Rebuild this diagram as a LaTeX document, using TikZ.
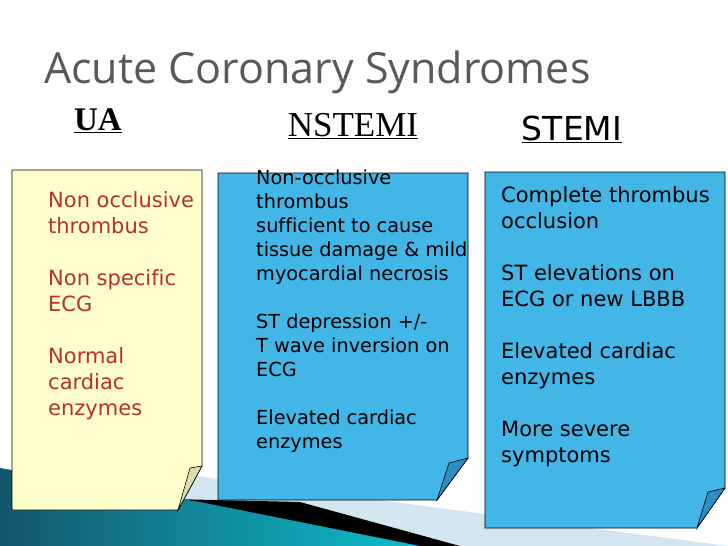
\documentclass[tikz,border=0pt]{standalone}
\usepackage{fontspec}
\setmainfont{Liberation Serif}
\newfontfamily\bodyfont[Ligatures=NoCommon]{DejaVu Sans}
\newfontfamily\titlefont{Open Sans}
\usetikzlibrary{positioning}
\definecolor{paleyellow}{HTML}{FFFFCC}
\definecolor{notecyan}{HTML}{42B6E6}
\definecolor{foldcyan}{HTML}{2E8FBC}
\definecolor{foldyellow}{HTML}{DCDCB0}
\definecolor{uared}{HTML}{B5312B}
\definecolor{titlegray}{HTML}{595959}
\definecolor{teal}{HTML}{1C7C98}
\definecolor{paleblue}{HTML}{D3E6EF}
\tikzset{
  note/.style={draw=black, line width=0.8pt},
  fold/.style={draw=black, line width=0.6pt},
  body/.style={anchor=north west, align=left, inner sep=0pt,
    font=\bodyfont\fontsize{21}{26}\selectfont},
  head/.style={anchor=base, inner sep=0pt}
}
\begin{document}
\begin{tikzpicture}[x=1pt, y=-1pt]
\useasboundingbox (0,0) rectangle (728,546);
% Swoosh
    \fill[paleblue] (150,470) -- (728,546) -- (460,546) -- (170,500) -- cycle;
    \fill[black] (0,495) -- (300,502) -- (460,546) -- (0,546) -- cycle;
    \shade[left color=teal!70!black, right color=teal!50!cyan] (0,468) -- (200,502) -- (420,546) -- (0,546) -- cycle;
% Title
    \node[anchor=base west, inner sep=0pt, text=titlegray,
      font=\titlefont\fontsize{43}{46}\selectfont] (title) at (44,83) {Acute Coronary Syndromes};
% Headers
    \node[head, font=\bfseries\fontsize{33}{36}\selectfont] (ua) at (98,130) {\underline{UA}};
    \node[head, font=\fontsize{35}{38}\selectfont] (nstemi) at (353,136) {\underline{NSTEMI}};
    \node[head, font=\bodyfont\fontsize{33}{36}\selectfont] (stemi) at (572,140) {\underline{STEMI}};
% Notes
    \draw[note, fill=paleyellow] (12,170) -- (202,170) -- (202,466) -- (178,510) -- (12,510) -- cycle;
    \draw[fold, fill=foldyellow] (178,510) -- (190,468) -- (202,466) -- cycle;
    \draw[note, fill=notecyan] (218,173) -- (468,173) -- (468,458) -- (437,500) -- (218,500) -- cycle;
    \draw[fold, fill=foldcyan] (437,500) -- (449,463) -- (468,458) -- cycle;
    \draw[note, fill=notecyan] (485,172) -- (725,172) -- (725,488) -- (697,528) -- (485,528) -- cycle;
    \draw[fold, fill=foldcyan] (697,528) -- (708,492) -- (725,488) -- cycle;
% Texts
    \node[body, text=uared] (uaText) at (48,191) {Non occlusive\\thrombus\\[26pt]Non specific\\ECG\\[26pt]Normal\\cardiac\\enzymes};
    \node[body, font=\bodyfont\fontsize{19.3}{24}\selectfont] (nstemiText) at (256,170)
      {Non-occlusive\\thrombus\\sufficient to cause\\tissue damage \& mild\\myocardial necrosis\\[24pt]ST depression +/-\\T wave inversion on\\ECG\\[24pt]Elevated cardiac\\enzymes};
    \node[body] (stemiText) at (501,186)
      {Complete thrombus\\occlusion\\[26pt]ST elevations on\\ECG or new LBBB\\[26pt]Elevated cardiac\\enzymes\\[26pt]More severe\\symptoms};
\end{tikzpicture}
\end{document}
